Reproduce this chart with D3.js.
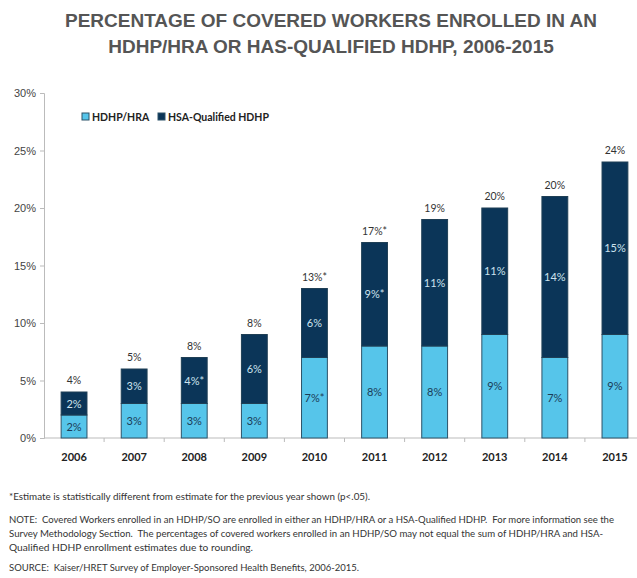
<!DOCTYPE html>
<html>
<head>
<meta charset="utf-8">
<script src="https://cdn.jsdelivr.net/npm/d3@7"></script>
<style>
  body { margin: 0; background: #fff; }
  svg { display: block; font-family: Lato, "Open Sans", sans-serif; }
</style>
</head>
<body>
<svg id="chart"></svg>
<script>
const width = 637;
const height = 578;

const years = ["2006", "2007", "2008", "2009", "2010", "2011", "2012", "2013", "2014", "2015"];
const hraValues = [2, 3, 3, 3, 7, 8, 8, 9, 7, 9];
const hsaValues = [2, 3, 4, 6, 6, 9, 11, 11, 14, 15];
const hraLabels = ["2%", "3%", "3%", "3%", "7%*", "8%", "8%", "9%", "7%", "9%"];
const hsaLabels = ["2%", "3%", "4%*", "6%", "6%", "9%*", "11%", "11%", "14%", "15%"];
const totalLabels = ["4%", "5%", "8%", "8%", "13%*", "17%*", "19%", "20%", "20%", "24%"];
const yTicks = [0, 5, 10, 15, 20, 25, 30];
const seriesNames = ["HDHP/HRA", "HSA-Qualified HDHP"];

const lightBlue = "#56c5ea";
const navy = "#0b3558";

const svg = d3.select("#chart")
  .attr("width", width)
  .attr("height", height);

// Title
svg.append("text")
  .attr("x", 331)
  .attr("text-anchor", "middle")
  .attr("font-family", "'Liberation Sans', Arial, sans-serif")
  .attr("font-weight", "bold")
  .attr("font-size", 19)
  .attr("fill", "#555")
  .selectAll("tspan")
  .data(["PERCENTAGE OF COVERED WORKERS ENROLLED IN AN", "HDHP/HRA OR HAS-QUALIFIED HDHP, 2006-2015"])
  .enter()
  .append("tspan")
  .attr("x", 331)
  .attr("y", (d, i) => 27 + i * 26)
  .text(d => d);

const plotLeft = 44;
const plotTop = 93;
const plotBottom = 438;

const x = d3.scaleBand()
  .domain(years)
  .range([plotLeft, plotLeft + 601])
  .paddingInner(0.57)
  .paddingOuter(0.285);

const y = d3.scaleLinear()
  .domain([0, 30])
  .range([plotBottom, plotTop]);

const rows = years.map((yr, i) => ({
  year: yr,
  hra: hraValues[i],
  hsa: hsaValues[i],
  hraLabel: hraLabels[i],
  hsaLabel: hsaLabels[i],
  total: totalLabels[i]
}));

// Y axis
const yAxis = d3.axisLeft(y)
  .tickValues(yTicks)
  .tickFormat(d => d + "%")
  .tickSize(4)
  .tickPadding(4);

const yg = svg.append("g")
  .attr("transform", `translate(${plotLeft},0)`)
  .call(yAxis);
yg.select(".domain").attr("stroke", "#bbb");
yg.selectAll(".tick line").attr("stroke", "#bbb");
yg.selectAll(".tick text")
  .attr("font-size", 11)
  .attr("fill", "#444");

// X axis
svg.append("line")
  .attr("x1", plotLeft)
  .attr("x2", width)
  .attr("y1", plotBottom)
  .attr("y2", plotBottom)
  .attr("stroke", "#bbb");

const step = x.step();
svg.selectAll(".xtick")
  .data(years.slice(1))
  .enter()
  .append("line")
  .attr("class", "xtick")
  .attr("x1", d => x(d) - (step - x.bandwidth()) / 2)
  .attr("x2", d => x(d) - (step - x.bandwidth()) / 2)
  .attr("y1", plotBottom)
  .attr("y2", plotBottom + 4)
  .attr("stroke", "#bbb");

svg.selectAll(".xlabel")
  .data(years)
  .enter()
  .append("text")
  .attr("class", "xlabel")
  .attr("x", d => x(d) + x.bandwidth() / 2)
  .attr("y", 461)
  .attr("text-anchor", "middle")
  .attr("font-size", 11)
  .attr("font-weight", "bold")
  .attr("fill", "#222")
  .text(d => d);

// Bars
const bars = svg.selectAll(".bar")
  .data(rows)
  .enter()
  .append("g")
  .attr("class", "bar");

bars.append("rect")
  .attr("x", d => x(d.year))
  .attr("y", d => y(d.hra))
  .attr("width", x.bandwidth())
  .attr("height", d => y(0) - y(d.hra))
  .attr("fill", lightBlue)
  .attr("stroke", "#2d5268")
  .attr("stroke-width", 1);

bars.append("rect")
  .attr("x", d => x(d.year))
  .attr("y", d => y(d.hra + d.hsa))
  .attr("width", x.bandwidth())
  .attr("height", d => y(d.hra) - y(d.hra + d.hsa))
  .attr("fill", navy)
  .attr("stroke", "#1f3f55")
  .attr("stroke-width", 1);

bars.append("text")
  .attr("x", d => x(d.year) + x.bandwidth() / 2)
  .attr("y", d => y(d.hra / 2) + 4)
  .attr("text-anchor", "middle")
  .attr("font-size", 11)
  .attr("fill", "#1b3c58")
  .text(d => d.hraLabel);

bars.append("text")
  .attr("x", d => x(d.year) + x.bandwidth() / 2)
  .attr("y", d => y(d.hra + d.hsa / 2) + 4)
  .attr("text-anchor", "middle")
  .attr("font-size", 11)
  .attr("fill", "#cde3ee")
  .text(d => d.hsaLabel);

bars.append("text")
  .attr("x", d => x(d.year) + x.bandwidth() / 2)
  .attr("y", d => y(d.hra + d.hsa) - 8)
  .attr("text-anchor", "middle")
  .attr("font-size", 10.5)
  .attr("fill", "#333")
  .text(d => d.total);

// Legend
const legend = svg.append("g")
  .attr("transform", "translate(82,117)");
const legendX = [0, 76];
const legendFill = [lightBlue, navy];
seriesNames.forEach((name, i) => {
  legend.append("rect")
    .attr("x", legendX[i])
    .attr("y", -4)
    .attr("width", 7)
    .attr("height", 7)
    .attr("fill", legendFill[i])
    .attr("stroke", "#2d5268");
  legend.append("text")
    .attr("x", legendX[i] + 10)
    .attr("y", 4)
    .attr("font-size", 10.5)
    .attr("font-weight", "bold")
    .attr("fill", "#222")
    .text(name);
});

// Footnotes
const notes = [
  { t: "*Estimate is statistically different from estimate for the previous year shown (p<.05).", y: 500, w: 361 },
  { t: "NOTE:  Covered Workers enrolled in an HDHP/SO are enrolled in either an HDHP/HRA or a HSA-Qualified HDHP.  For more information see the", y: 523, w: 605 },
  { t: "Survey Methodology Section.  The percentages of covered workers enrolled in an HDHP/SO may not equal the sum of HDHP/HRA and HSA-", y: 537, w: 594 },
  { t: "Qualified HDHP enrollment estimates due to rounding.", y: 551, w: 244 },
  { t: "SOURCE:  Kaiser/HRET Survey of Employer-Sponsored Health Benefits, 2006-2015.", y: 571, w: 350 }
];
svg.selectAll(".note")
  .data(notes)
  .enter()
  .append("text")
  .attr("class", "note")
  .attr("x", 9)
  .attr("y", d => d.y)
  .attr("font-size", 9.5)
  .attr("fill", "#333")
  .attr("textLength", d => d.w)
  .attr("lengthAdjust", "spacingAndGlyphs")
  .style("white-space", "pre")
  .text(d => d.t);
</script>
</body>
</html>
